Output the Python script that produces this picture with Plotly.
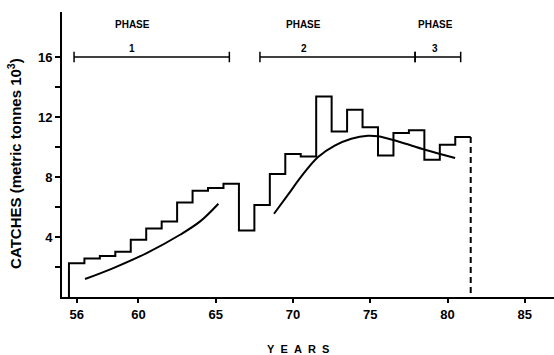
import plotly.graph_objects as go

# ---- data ----
years = list(range(56, 82))
catches = [2.25, 2.57, 2.73, 3.02, 3.82, 4.57, 5.04, 6.30, 7.08, 7.27, 7.55,
           4.44, 6.13, 8.20, 9.53, 9.37, 13.37, 11.04, 12.49, 11.31, 9.44,
           10.93, 11.11, 9.15, 10.15, 10.67]

curve1_x = [56.54, 58.37, 60.53, 62.69, 63.99, 65.17]
curve1_y = [1.20, 1.93, 2.93, 4.15, 5.04, 6.22]

curve2_x = [68.77, 69.68, 70.54, 71.62, 72.70, 73.77, 74.85, 75.50, 76.81, 78.54, 80.49]
curve2_y = [5.55, 6.82, 8.04, 9.33, 10.09, 10.55, 10.75, 10.71, 10.37, 9.82, 9.27]

phase_names = ["1", "2", "3"]
phase_start = [55.83, 67.86, 77.90]
phase_end = [65.88, 77.90, 80.85]
phase_level = 16
phase_label_x = [59.6, 70.7, 79.2]

x_ticks = [56, 60, 65, 70, 75, 80, 85]
y_ticks = [4, 8, 12, 16]
y_minor_ticks = [2, 6, 10, 14]

# ---- build step outline from the yearly values ----
step_x = [years[0] - 0.5] + [y - 0.5 for y in years] + [years[-1] + 0.5]
step_y = [0] + catches + [catches[-1]]

BLACK = "#000000"
FONT = "Liberation Sans"
fig = go.Figure()

fig.add_trace(go.Scatter(x=step_x, y=step_y, mode="lines", line_shape="hv",
                         line=dict(color=BLACK, width=2), hoverinfo="skip"))
fig.add_trace(go.Scatter(x=[years[-1] + 0.5, years[-1] + 0.5], y=[catches[-1], 0],
                         mode="lines", line=dict(color=BLACK, width=2, dash="6px,4px"),
                         hoverinfo="skip"))
fig.add_trace(go.Scatter(x=curve1_x, y=curve1_y, mode="lines", line_shape="spline",
                         line=dict(color=BLACK, width=2, smoothing=1), hoverinfo="skip"))
fig.add_trace(go.Scatter(x=curve2_x, y=curve2_y, mode="lines", line_shape="spline",
                         line=dict(color=BLACK, width=2, smoothing=1), hoverinfo="skip"))

# phase bars with end caps
bx, by, cx, cy = [], [], [], []
for s, e in zip(phase_start, phase_end):
    bx += [s, e, None]
    by += [phase_level, phase_level, None]
    for v in (s, e):
        cx += [v, v, None]
        cy += [phase_level - 0.35, phase_level + 0.35, None]
fig.add_trace(go.Scatter(x=bx, y=by, mode="lines", line=dict(color=BLACK, width=1.5),
                         hoverinfo="skip"))
fig.add_trace(go.Scatter(x=cx, y=cy, mode="lines", line=dict(color=BLACK, width=1.5),
                         hoverinfo="skip"))

annots = []
for name, lx in zip(phase_names, phase_label_x):
    annots.append(dict(x=lx, y=18.15, xref="x", yref="y", text="PHASE", showarrow=False,
                       xanchor="center", yanchor="middle",
                       font=dict(size=10, family=FONT, color=BLACK, weight="bold")))
    annots.append(dict(x=lx, y=16.55, xref="x", yref="y", text=name, showarrow=False,
                       xanchor="center", yanchor="middle",
                       font=dict(size=10, family=FONT, color=BLACK, weight="bold")))

annots.append(dict(x=-0.0955, y=0.467, xref="paper", yref="paper", textangle=-90,
                   xanchor="center", yanchor="middle",
                   text="CATCHES (metric tonnes 10<sup>3</sup>)", showarrow=False,
                   font=dict(size=15, family=FONT, color=BLACK, weight="bold")))
annots.append(dict(x=0.48, y=-0.1825, xref="paper", yref="paper",
                   xanchor="center", yanchor="middle",
                   text="Y\u00a0\u00a0E\u00a0\u00a0A\u00a0\u00a0R\u00a0\u00a0S", showarrow=False,
                   font=dict(size=11, family=FONT, color=BLACK, weight="bold")))

fig.update_layout(
    width=554, height=355,
    margin=dict(l=62, r=0, t=12, b=58),
    paper_bgcolor="white", plot_bgcolor="white",
    showlegend=False,
    annotations=annots,
    font=dict(family=FONT, color=BLACK),
    xaxis=dict(range=[55.05, 86.89], tickvals=x_ticks, ticks="outside", ticklen=4,
               tickwidth=2, tickcolor=BLACK, showline=True, linecolor=BLACK, linewidth=2,
               showgrid=False, zeroline=False,
               tickfont=dict(size=13, family=FONT, color=BLACK, weight="bold")),
    yaxis=dict(range=[0, 19], tickvals=y_ticks, ticks="outside",
               ticklen=5, tickwidth=2, tickcolor=BLACK, showline=True, linecolor=BLACK,
               linewidth=2, showgrid=False, zeroline=False,
               minor=dict(tickvals=y_minor_ticks, ticks="outside", ticklen=5, tickwidth=2,
                          tickcolor=BLACK, showgrid=False),
               tickfont=dict(size=13, family=FONT, color=BLACK, weight="bold")),
)

fig.write_html("out.html")
